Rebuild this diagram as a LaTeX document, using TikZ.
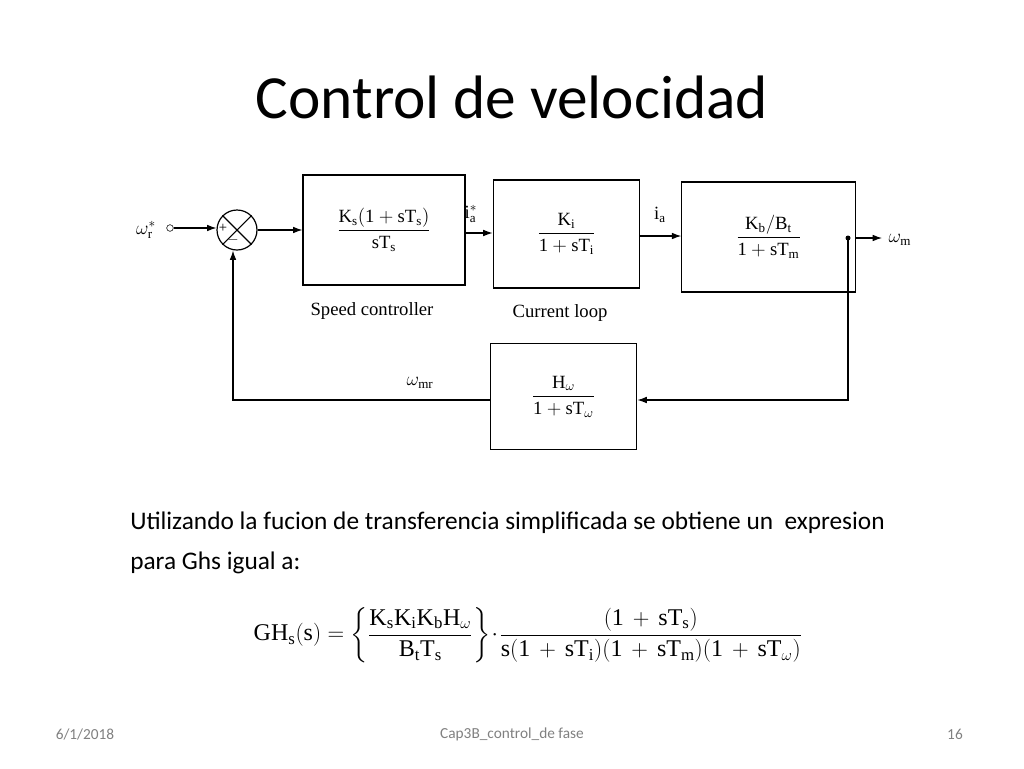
\documentclass[tikz,border=0pt]{standalone}
\usepackage{amsmath}
\usepackage{fontspec}
\setmainfont{Liberation Serif}
\newfontfamily\calfont{Carlito}
\usetikzlibrary{arrows.meta}
\begin{document}
\begin{tikzpicture}[x=0.75pt,y=-0.75pt,
  blk/.style={draw,line width=0.9pt},
  conn/.style={line width=0.8pt,-{Latex[length=7pt,width=5pt]}},
  lab/.style={font=\fontsize{14}{16}\selectfont}]
\useasboundingbox (0,0) rectangle (1024,768);
\node[font=\calfont\fontsize{46}{52}\selectfont] (title) at (512,97) {Control de velocidad};
% blocks
\node[blk,minimum width=121.5pt,minimum height=82.5pt] (b1) at (384,230) {};
\node[lab] at (b1) {$\dfrac{\mathrm{K_s(1+sT_s)}}{\mathrm{sT_s}}$};
\node[blk,minimum width=110pt,minimum height=81pt] (b2) at (566.5,234) {};
\node[lab] at (b2) {$\dfrac{\mathrm{K_i}}{\mathrm{1+sT_i}}$};
\node[blk,minimum width=130pt,minimum height=82.5pt] (b3) at (768.5,237) {};
\node[lab] at (b3) {$\dfrac{\mathrm{K_b/B_t}}{\mathrm{1+sT_m}}$};
\node[blk,minimum width=110pt,minimum height=80pt] (b4) at (563.5,396.5) {};
\node[lab] at (b4) {$\dfrac{\mathrm{H_\omega}}{\mathrm{1+sT_\omega}}$};
% summing junction
\node[draw,circle,line width=0.9pt,minimum size=30pt,inner sep=0pt] (s) at (237,230) {};
\draw[line width=0.8pt] (s.north west) -- (s.south east) (s.north east) -- (s.south west);
\node[font=\fontsize{11}{12}\selectfont] at (223,228) {+};
\node[font=\fontsize{11}{12}\selectfont] at (233,240) {$-$};
% input
\node[lab] (wr) at (146,230) {$\omega_{\mathrm r}^{*}$};
\node[draw,circle,inner sep=0pt,minimum size=5pt] (in) at (170,228) {};
\draw[conn] (in) -- (s.west|-in);
\draw[conn] (s.east) -- (b1.west|-s.east);
\draw[conn] (b1.east|-0,233) -- (b2.west|-0,233);
\node[lab] (ias) at (471,214) {$\mathrm{i}_{\mathrm a}^{*}$};
\draw[conn] (b2.east|-0,236) -- (b3.west|-0,236);
\node[lab] (ia) at (660,215) {$\mathrm{i}_{\mathrm a}$};
\coordinate (out) at (882,238);
\coordinate (dot) at (848,238);
\draw[conn] (b3.east|-out) -- (out);
\fill (dot) circle (2.5);
\node[lab] (wm) at (900,240) {$\omega_{\mathrm m}$};
% feedback
\coordinate (c1) at (848,400);
\coordinate (c2) at (233,400);
\draw[conn] (dot) -- (c1) -- (b4.east|-c1);
\draw[conn] (b4.west|-c2) -- (c2) -- (s.south-|c2);
\node[lab] (wmr) at (420,383) {$\omega_{\mathrm{mr}}$};
\node[lab] (sc) at (372,311) {Speed controller};
\node[lab] (cl) at (560,313) {Current loop};
% text
\node[font=\calfont\fontsize{19}{30}\selectfont,anchor=north west,align=left,inner sep=0pt] (txt) at (130,512) {Utilizando la fucion de transferencia simplificada se obtiene un\ \ expresion\\para Ghs igual a:};
\node[font=\fontsize{18}{21}\selectfont] (eq) at (528,635) {$\mathrm{GH_s(s)} = \left\{\dfrac{\mathrm{K_sK_iK_bH_\omega}}{\mathrm{B_tT_s}}\right\}\!\cdot\!\dfrac{\mathrm{(1\,+\,sT_s)}}{\mathrm{s(1\,+\,sT_i)(1\,+\,sT_m)(1\,+\,sT_\omega)}}$};
% footer
\node[font=\calfont\fontsize{11.5}{13}\selectfont,text=gray] (f1) at (85,734) {6/1/2018};
\node[font=\calfont\fontsize{11.5}{13}\selectfont,text=gray] (f2) at (512,734) {Cap3B\_control\_de fase};
\node[font=\calfont\fontsize{11.5}{13}\selectfont,text=gray] (f3) at (955,734) {16};
\end{tikzpicture}
\end{document}
